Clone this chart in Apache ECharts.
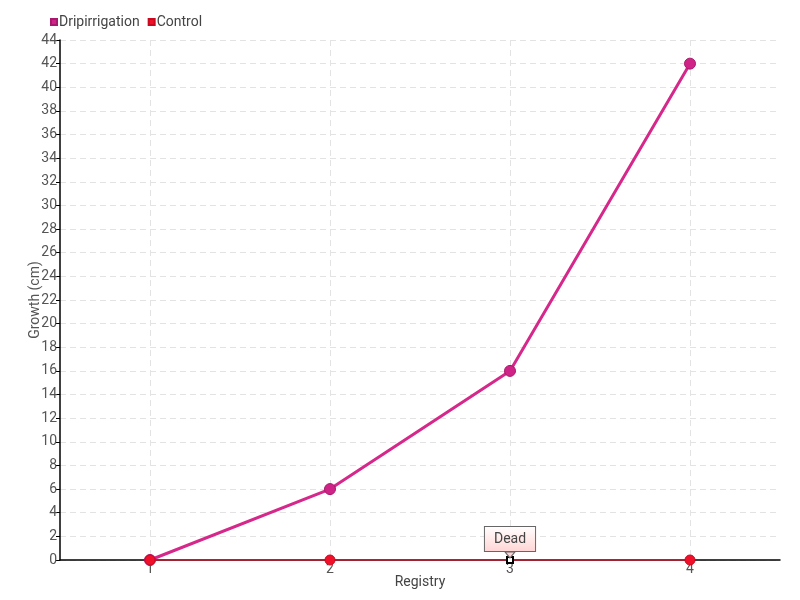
<!DOCTYPE html>
<html><head><meta charset="utf-8">
<script src="https://cdn.jsdelivr.net/npm/echarts@6/dist/echarts.min.js"></script>
<style>html,body{margin:0;padding:0;background:#fff}#c{width:800px;height:600px}</style>
</head><body><div id="c"></div>
<script>
const categories = ['1', '2', '3', '4'];
const dripValues = [0, 6, 16, 42];
const controlValues = [0, 0, 0, 0];
const deadIndex = 2;
const deadLabel = 'Dead';

const FONT = 'Roboto, sans-serif';
const chart = echarts.init(document.getElementById('c'));
const controlData = controlValues.map((v, i) => {
  if (i === deadIndex) {
    return {
      value: v,
      symbol: 'rect', symbolSize: 6,
      itemStyle: { color: '#fff', borderColor: '#000', borderWidth: 2 },
      label: {
        show: true, position: 'top', distance: 5, formatter: deadLabel,
        fontFamily: FONT, fontSize: 14, color: '#444',
        backgroundColor: { type: 'linear', x: 0, y: 0, x2: 0, y2: 1,
          colorStops: [{ offset: 0, color: '#ffffff' }, { offset: 1, color: '#ffd4d4' }] },
        borderColor: '#666', borderWidth: 1, padding: [5, 9, 5, 9]
      }
    };
  }
  return v;
});
chart.setOption({
  animation: false,
  textStyle: { fontFamily: FONT },
  legend: {
    left: 45, top: 10, itemWidth: 6, itemHeight: 6, itemGap: 8,
    icon: 'rect',
    textStyle: { fontFamily: FONT, fontSize: 14, color: '#444', padding: [0, 0, 0, -3] },
    data: ['Dripirrigation', 'Control']
  },
  grid: { left: 60, right: 20, top: 40, bottom: 40 },
  xAxis: {
    type: 'category', data: categories,
    name: 'Registry', nameLocation: 'middle', nameGap: 15, nameMoveOverlap: false,
    nameTextStyle: { fontFamily: FONT, fontSize: 14, color: '#444' },
    axisLine: { lineStyle: { color: '#000', width: 1.5 } },
    axisTick: { show: false, alignWithLabel: true },
    axisLabel: { margin: 2, fontFamily: FONT, fontSize: 14, color: '#555' },
    splitLine: { show: true, alignWithLabel: true, lineStyle: { color: '#e3e3e3', type: [6, 4] } }
  },
  yAxis: {
    type: 'value', min: 0, max: 44, interval: 2,
    name: 'Growth (cm)', nameLocation: 'middle', nameGap: 18, nameMoveOverlap: false,
    nameTextStyle: { fontFamily: FONT, fontSize: 14, color: '#555' },
    axisLine: { show: true, lineStyle: { color: '#000', width: 1.5 } },
    axisTick: { show: true, length: 4, lineStyle: { color: '#000' } },
    axisLabel: { margin: 3, fontFamily: FONT, fontSize: 14, color: '#555' },
    splitLine: { show: true, lineStyle: { color: '#e3e3e3', type: [6, 4] } }
  },
  series: [
    {
      name: 'Dripirrigation', type: 'line', data: dripValues,
      symbol: 'circle', symbolSize: 11,
      lineStyle: { color: '#d6288b', width: 3 },
      itemStyle: { color: '#cf2388', borderColor: '#a8186c', borderWidth: 1 }
    },
    {
      name: 'Control', type: 'line', data: controlData,
      symbol: 'circle', symbolSize: 10,
      lineStyle: { color: '#f0102a', width: 1.5 },
      itemStyle: { color: '#f0102a', borderColor: '#c80a20', borderWidth: 1 },
      markPoint: {
        silent: true,
        symbol: 'triangle', symbolRotate: 180, symbolSize: [10, 6], symbolOffset: [0, -5],
        itemStyle: { color: '#ffd4d4', borderColor: '#666', borderWidth: 1 },
        label: { show: false },
        data: [{ coord: [deadIndex, controlValues[deadIndex]] }]
      }
    }
  ]
});
</script></body></html>
